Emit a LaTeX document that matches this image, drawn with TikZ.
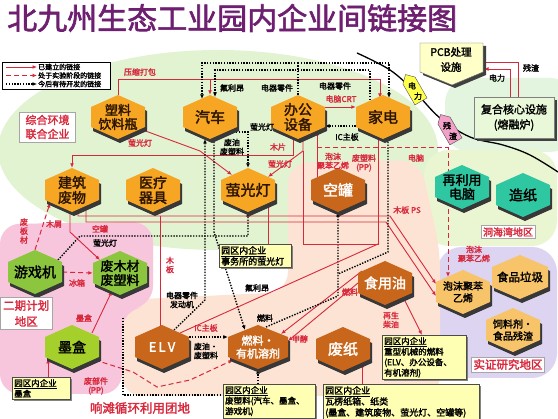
\documentclass[tikz,border=0pt]{standalone}
\usepackage{fontspec}
\setmainfont{Noto Sans CJK SC}[AutoFakeBold=2]
\usetikzlibrary{arrows.meta,shapes.symbols,shadows}
\pgfdeclarelayer{back}
\pgfdeclarelayer{mid}
\pgfsetlayers{back,mid,main}
\newcommand\myfs[2]{\fontsize{#1}{#2}\selectfont}
\definecolor{lred}{HTML}{D8283C}
\definecolor{ttl}{HTML}{6E1F70}
\definecolor{hor}{HTML}{F6A623}
\definecolor{hbr}{HTML}{C8661B}
\definecolor{hgr}{HTML}{8CC63F}
\definecolor{hyg}{HTML}{A5CF2A}
\definecolor{hte}{HTML}{2FC6A2}
\definecolor{hlo}{HTML}{F8C46A}
\definecolor{htx}{HTML}{2B1400}
\definecolor{cgreen}{HTML}{E2F3D2}
\definecolor{cgreen2}{HTML}{EAF6D2}
\definecolor{cgreen3}{HTML}{E3F5DF}
\definecolor{cpink}{HTML}{F7C6DC}
\definecolor{cpeach}{HTML}{FCE3D4}
\definecolor{clav}{HTML}{DCD4F1}
\definecolor{pcbY}{HTML}{FFFFC8}
\definecolor{fhg}{HTML}{E8F8D8}
\definecolor{tagY}{HTML}{FFFF4D}
\definecolor{tagP}{HTML}{F2A0C8}
\definecolor{yb}{HTML}{FFFFB3}
\tikzset{
 rl/.style={draw=lred, line width=0.9pt, -{Latex[length=4.5pt,width=3.8pt]}},
 rn/.style={draw=lred, line width=0.9pt},
 dl/.style={draw=black, line width=1.4pt, dash pattern=on 1.4pt off 1.4pt, -{Latex[length=4.5pt,width=4pt]}},
 dn/.style={draw=black, line width=1.4pt, dash pattern=on 1.4pt off 1.4pt},
 dr/.style={draw=lred, line width=1pt, dash pattern=on 5pt off 3pt, -{Latex[length=4.5pt,width=3.8pt]}},
 lb/.style={font=\bfseries\myfs{8}{9}, inner sep=0.5pt, align=center},
 lbr/.style={lb, text=lred},
 hxt/.style={align=center, inner sep=0pt, minimum height=44pt},
 ybox/.style={draw=black!70, fill=yb, align=left, inner sep=2pt, anchor=north west,
   drop shadow={shadow xshift=1.5pt, shadow yshift=-1.5pt, fill=black!60, opacity=0.8}},
 rbox/.style={draw=black!35, fill=white, text=lred, align=center, inner sep=3pt},
 tagsty/.style={signal, signal to=west, draw=black!70, rotate=-60, minimum width=31pt, minimum height=14pt, inner sep=0pt},
 tagch/.style={font=\bfseries\myfs{8}{9}, inner sep=0pt},
}
\newcommand\hx[7]{%
 \begin{scope}[shift={(#2,#3)}]
  \fill[black!78] (2,-18) -- (#4+2,-6) -- (#4+2,14) -- (2,26) -- (-#4+2,14) -- (-#4+2,-6) -- cycle;
  \fill[#5] (0,-22) -- (#4,-10) -- (#4,10) -- (0,22) -- (-#4,10) -- (-#4,-10) -- cycle;
 \end{scope}
 \node[hxt, minimum width=#4*2pt, #6] (#1) at (#2,#3) {#7};
}
\begin{document}
\begin{tikzpicture}[x=1pt,y=-1pt]
\useasboundingbox (0,0) rectangle (558,419);
\begin{pgfonlayer}{back}
\fill[white] (0,0) rectangle (558,419);
\fill[cgreen] (218,150) ellipse [x radius=220pt, y radius=100pt];
\fill[cgreen3, rounded corners=25pt] (445,78) rectangle (575,152);
\fill[cgreen2, rounded corners=25pt] (424,150) rectangle (557,246);
\fill[clav, rounded corners=25pt] (437,247) rectangle (557,378);
\fill[cpeach, rounded corners=20pt] (288,163) -- (420,160) -- (440,250) -- (440,396) -- (122,396) -- (122,300) -- (288,292) -- cycle;
\fill[cpink, rounded corners=20pt] (0,224) -- (153,222) -- (153,306) -- (122,310) -- (122,394) -- (0,394) -- cycle;
\end{pgfonlayer}

% title
\node[anchor=west, text=ttl, font=\bfseries\myfs{30}{32}, inner sep=0] (title) at (7,18) {北九州生态工业园内企业间链接图};

% legend
\node[draw=black, line width=0.5pt, fill=white, minimum width=108pt, minimum height=27pt, anchor=north west, inner sep=0] (leg) at (2,62) {};
\draw[rl] (6,67) -- (37,67);
\draw[dr] (6,75.5) -- (37,75.5);
\draw[dl] (6,84) -- (37,84);
\node[anchor=west, font=\bfseries\myfs{7}{8}, inner sep=0] (lg1) at (38,67) {已建立的链接};
\node[anchor=west, font=\bfseries\myfs{7}{8}, inner sep=0] (lg2) at (38,75.5) {处于实验阶段的链接};
\node[anchor=west, font=\bfseries\myfs{7}{8}, inner sep=0] (lg3) at (38,84) {今后有待开发的链接};

% PCB and melting furnace
\fill[black!75] (423,46) -- (486,46) -- (486,75) -- (455,88) -- (423,75) -- cycle;
\filldraw[fill=pcbY, draw=black!60, line width=0.4pt] (420,43) -- (483,43) -- (483,72) -- (452,85) -- (420,72) -- cycle;
\node[align=center, font=\bfseries\myfs{10.5}{15}, inner sep=0] (pcb) at (451,59.5) {PCB处理\\设施};
\fill[black!75] (477,100) rectangle (557,141);
\filldraw[fill=fhg, draw=black!50] (474,97) rectangle (554,138);
\node[align=center, font=\bfseries\myfs{11}{15}, inner sep=0] (fh) at (514,117.5) {复合核心设施\\(熔融炉)};

% hexagons
\hx{sl}{118}{117}{27}{hor}{text=htx,font=\bfseries\myfs{13}{14}}{塑料\\饮料瓶}
\hx{qc}{210}{117}{27}{hor}{text=htx,font=\bfseries\myfs{15}{16}}{汽车}
\hx{bg}{298}{117}{27}{hor}{text=htx,font=\bfseries\myfs{14}{15}}{办公\\设备}
\hx{jd}{383}{117}{27}{hor}{text=htx,font=\bfseries\myfs{15}{16}}{家电}
\hx{jz}{72}{190}{27}{hor}{text=htx,font=\bfseries\myfs{14}{15}}{建筑\\废物}
\hx{yl}{153}{190}{27}{hor}{text=htx,font=\bfseries\myfs{14}{15}}{医疗\\器具}
\hx{yg}{248}{190}{27}{hor}{text=htx,font=\bfseries\myfs{15}{16}}{萤光灯}
\hx{kg}{338}{190}{27}{hbr}{text=white,font=\bfseries\myfs{15}{16}}{空罐}
\hx{yx}{35}{272}{27}{hgr}{text=black,font=\bfseries\myfs{14}{15}}{游戏机}
\hx{fm}{120}{273}{27}{hgr}{text=black,font=\bfseries\myfs{13}{14}}{废木材\\废塑料}
\hx{mh}{72}{347}{27}{hyg}{text=black,font=\bfseries\myfs{14}{15}}{墨盒}
\hx{elv}{162}{347}{27}{hbr}{text=white,font=\bfseries\myfs{13}{14}}{E\,L\,V}
\hx{rj}{258}{347}{30}{hbr}{text=white,font=\bfseries\myfs{11}{13}}{燃料·\\有机溶剂}
\hx{fz}{343}{349}{27}{hbr}{text=white,font=\bfseries\myfs{15}{16}}{废纸}
\hx{sy}{385}{283}{27}{hbr}{text=white,font=\bfseries\myfs{14}{15}}{食用油}
\hx{zl}{462}{187}{27}{hte}{text=black,font=\bfseries\myfs{13}{14}}{再利用\\电脑}
\hx{zz}{523}{195}{27}{hte}{text=black,font=\bfseries\myfs{14}{15}}{造纸}
\hx{pm}{463}{292}{27}{hlo}{text=black,font=\bfseries\myfs{10}{12}}{泡沫聚苯\\乙烯}
\hx{sp}{520}{277}{28}{hlo}{text=black,font=\bfseries\myfs{11.5}{13}}{食品垃圾}
\hx{sc}{513}{330}{27}{hlo}{text=black,font=\bfseries\myfs{10}{12}}{饲料剂·\\食品残渣}

% connectors
\begin{pgfonlayer}{mid}
\draw[line width=1.3pt] plot[smooth, tension=0.6] coordinates {(357,53) (390,70) (415,92) (440,118) (470,137) (503,145) (530,155) (558,172)};
\draw[rl] (pcb.east |- 0,62) -| (fh.north -| 518,0);
\draw[rl] (fh.north -| 510,0) |- (484,69);
\draw[rl] (sl.north) |- (380,79) -- (380,98);
\draw[rl] (210,79) -- (qc.north);
\draw[dn] (bg.north) -- (298,63);
\draw[dl] (298,63) -| (202,99);
\draw[dl] (298,63) -| (389,98);
\draw[dl] (370,100) |- (215,70) -- (215,97);
\draw[rl] ([yshift=10pt]bg.east) -- ([yshift=10pt]jd.west);
\draw[dl] ([yshift=-9pt]jd.west) -- ([yshift=-9pt]bg.east);
\draw[rl] (140,129) -- (200,151) -- (232,175);
\draw[rl] (293,139) |- (72,155) -- (jz.north);
\draw[rl] (303,139) -- (303,151) -- (268,177);
\draw[dl] (236,132) -| (yg.north);
\draw[dl] (174,330) -- (205,300) -- (205,139);
\draw[dl] (214,139) -- (214,232) -- (245,330);
\draw[dl] (58,260) -- (80,236) -| (yg.south);
\draw[rl] (268,244) -- (268,203);
\draw[rl] (78,209) |- (390,216) -- (436,284);
\draw[rl] (86,207) |- (386,222) -- (436,296);
\draw[rl] (70,211) -- (70,232) -- (100,260);
\draw[dr] (yx.north) -- (50,203);
\draw[dr] (yx.east) -- (fm.west);
\draw[rl] (92,333) -- (112,291);
\draw[rl] (48,377) -- (48,359);
\draw[dr] (95,360) -- (133,372) -- (157,387) -- (190,380) -- (233,360);
\draw[dn] (123,318) -- (123,395) -- (222,395);
\draw[dl] ([yshift=10pt]elv.east) -- ([yshift=10pt]rj.west);
\draw[dl] (258,384) -- (rj.south);
\draw[rl] (362,384) -- (362,363);
\draw[rl] (362,271) -- (281,334);
\draw[rl] (358,283) -- (288,341);
\draw[rl] (403,297) -- (422,335);
\draw[dl] (266,327) -- (338,296) -- (kg.south);
\draw[dn] (388,139) -- (388,252) -- (338,274);
\draw[rl] (317,177) -- (317,131);
\draw[rn] (378,139) |- (303,244) -- (303,151);
\draw[rn] (180,333) -- (378,244);
\draw[rn] (160,216) -- (160,326);
\draw[dr] (317,148) -| (448,277);
\end{pgfonlayer}

% tags on the curve (shapes rotated, characters set upright along the diagonal)
\node[tagsty, fill=tagY] (tg1) at (415,91) {};
\node[tagch] (tg1a) at (412,85.8) {电};
\node[tagch] (tg1b) at (418,96.2) {力};
\node[tagsty, fill=tagP] (tg2) at (450,131) {};
\node[tagch] (tg2a) at (447,125.8) {残};
\node[tagch] (tg2b) at (453,136.2) {渣};

% connector labels
\node[lb] (l_cz) at (531,68) {残渣};
\node[lb] (l_dl) at (497,78) {电力};
\node[lbr] (a1) at (140,72) {压缩打包};
\node[lb] (a2) at (232,88) {氟利昂};
\node[lb] (a3) at (277,88) {电器零件};
\node[lb] (a4) at (335,86) {电器零件};
\node[lbr] (a5) at (341,99) {电脑CRT};
\node[lbr] (a6) at (140,143) {萤光灯};
\node[lb] (a7) at (262,127) {萤光灯};
\node[lb] (a8) at (232,147) {废油\\废塑料};
\node[lbr] (a9) at (278,147) {木片};
\node[lbr] (a10) at (280,164) {萤光灯};
\node[lb] (a11) at (347,137) {IC主板};
\node[lbr] (a12) at (333,161) {泡沫\\聚苯乙烯};
\node[lbr] (a13) at (364,163) {废塑料\\(PP)};
\node[lbr] (a14) at (416,158) {电脑};
\node[lbr] (a15) at (407,210) {木板 PS};
\node[lbr] (a16) at (100,229) {空罐};
\node[lbr] (a17) at (24,231) {废\\板\\材};
\node[lbr] (a18) at (54,224) {木屑};
\node[lb] (a19) at (105,243) {萤光灯};
\node[lbr] (a20) at (77,283) {冰箱};
\node[lbr] (a21) at (170,265) {木\\板};
\node[lb] (a22) at (182,300) {电器零件\\发动机};
\node[lb] (a23) at (257,288) {氟利昂};
\node[lbr] (a24) at (350,292) {燃料};
\node[lb] (a25) at (265,318) {燃料};
\node[lbr] (a26) at (391,320) {再生\\柴油};
\node[lbr] (a27) at (206,328) {IC主板};
\node[lb] (a28) at (206,351) {废油·\\废塑料};
\node[lbr] (a29) at (300,339) {甲醇};
\node[lbr] (a30) at (84,318) {墨盒};
\node[lbr] (a31) at (96,386) {废部件\\(PP)};
\node[lbr] (a32) at (474,254) {泡沫\\聚苯乙烯};

% region labels
\node[rbox, font=\bfseries\myfs{11}{14}, inner xsep=6pt] (r1) at (47.5,127) {综合环境\\联合企业};
\node[rbox, font=\bfseries\myfs{11.5}{16}, anchor=north west] (r2) at (0,297) {二期计划\\地区};
\node[rbox, font=\bfseries\myfs{10}{12}, inner sep=2pt] (r3) at (508,232) {洞海湾地区};
\node[rbox, font=\bfseries\myfs{11.5}{13}, inner sep=2pt] (r4) at (508,364.5) {实证研究地区};
\node[text=lred, font=\bfseries\myfs{12.5}{14}] (r5) at (140,408) {响滩循环利用团地};

% yellow boxes
\node[ybox, text width=68pt, font=\bfseries\myfs{9}{11}] (b1) at (219,244) {\underline{园区内企业}\\事务所的萤光灯};
\node[ybox, text width=54pt, font=\bfseries\myfs{8.5}{10.5}] (b2) at (12,377) {\underline{园区内企业}\\墨盒};
\node[ybox, text width=88pt, font=\bfseries\myfs{8.5}{10.5}] (b3) at (223,384) {\underline{园区内企业}\\废塑料(汽车、墨盒、\\游戏机)};
\node[ybox, text width=152pt, font=\bfseries\myfs{9}{11}] (b4) at (323,384) {\underline{园区内企业}\\瓦楞纸箱、纸类\\(墨盒、建筑废物、萤光灯、空罐等)};
\node[ybox, text width=80pt, font=\bfseries\myfs{8.5}{10.5}] (b5) at (382,335) {\underline{园区内企业}\\重型机械的燃料\\(ELV、办公设备、\\有机溶剂)};
\end{tikzpicture}
\end{document}
